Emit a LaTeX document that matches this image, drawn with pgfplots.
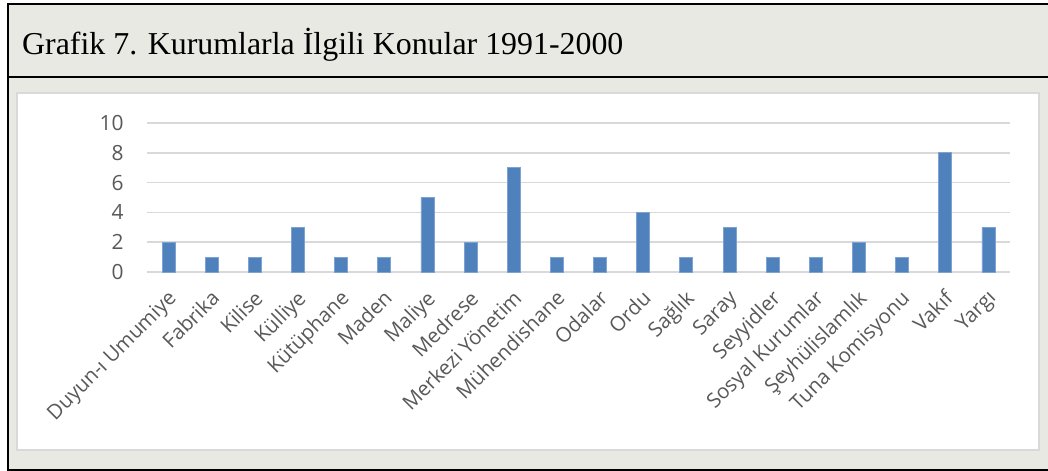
\documentclass[border=0pt]{standalone}
\usepackage{fontspec}
\setmainfont{Liberation Serif}
\newfontfamily\osans{Open Sans}
\usepackage{pgfplots}
\pgfplotsset{compat=1.18}
\definecolor{bggray}{HTML}{E9E9E4}
\definecolor{panelgray}{HTML}{D9D9D9}
\definecolor{gridgray}{HTML}{D9D9D9}
\definecolor{barblue}{HTML}{4F81BD}
\definecolor{baredge}{HTML}{7FA3D1}
\definecolor{ticktext}{HTML}{595959}

\begin{document}
\begin{tikzpicture}[x=1bp,y=1bp]
\path[use as bounding box] (0,0) rectangle (1048,471);
% frame and title band
\fill[bggray] (8,1) rectangle (1048,467);
\draw[panelgray, fill=white, line width=1.5bp] (17,21) rectangle (1039,378);
\draw[black, line width=2bp] (1048,467) -- (8,467) -- (8,1) -- (1048,1);
\draw[black, line width=2bp] (8,394) -- (1048,394);
\node[anchor=base west, inner sep=0, font=\fontsize{32}{36}\selectfont]
  at (22,416) {Grafik 7. Kurumlarla İlgili Konular 1991-2000};

\begin{axis}[
  at={(147bp,199bp)}, anchor=south west,
  scale only axis, width=863bp, height=149bp,
  xmin=-0.5, xmax=19.5, ymin=0, ymax=10,
  ytick={0,2,4,6,8,10},
  xtick=data,
  xticklabels={Duyun-ı Umumiye,Fabrika,Kilise,Külliye,Kütüphane,Maden,Maliye,
    Medrese,Merkezi Yönetim,Mühendishane,Odalar,Ordu,Sağlık,Saray,Seyyidler,
    Sosyal Kurumlar,Şeyhülislamlık,Tuna Komisyonu,Vakıf,Yargı},
  ticklabel style={text=ticktext},
  x tick label style={font=\osans\fontsize{20.5}{24}\selectfont,
    xshift=-2bp, yshift=-11bp, rotate=45, anchor=north east, inner sep=1bp},
  y tick label style={font=\osans\fontsize{21}{24}\selectfont, xshift=-20bp},
  /pgf/number format/assume math mode=true,
  axis line style={draw=none},
  major tick style={draw=none},
  ymajorgrids, grid style={gridgray, line width=1.5bp},
  ybar, bar width=13bp, bar shift=0pt,
  clip=false,
]
\addplot[fill=barblue, draw=baredge, line width=0.8bp] coordinates {
  (0,2) (1,1) (2,1) (3,3) (4,1) (5,1) (6,5) (7,2) (8,7) (9,1)
  (10,1) (11,4) (12,1) (13,3) (14,1) (15,1) (16,2) (17,1) (18,8) (19,3)};
\end{axis}
\end{tikzpicture}
\end{document}
